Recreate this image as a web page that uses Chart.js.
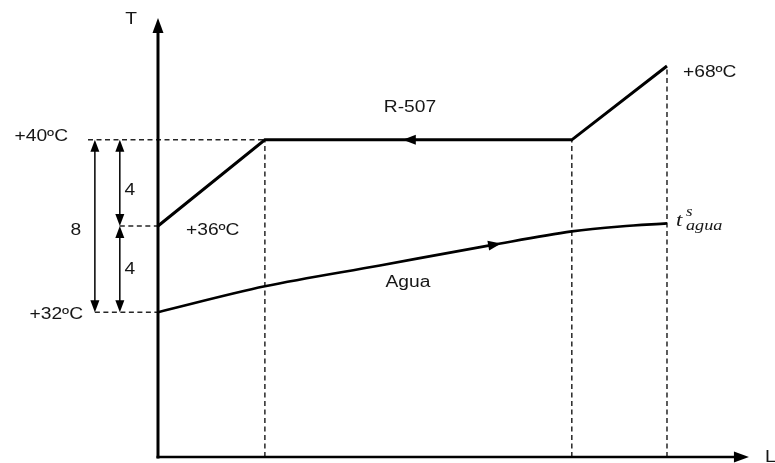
<!DOCTYPE html>
<html>
<head>
<meta charset="utf-8">
<script src="https://cdn.jsdelivr.net/npm/chart.js@4/dist/chart.umd.min.js"></script>
<style>
  html, body { margin: 0; padding: 0; background: #fff; overflow: hidden; }
  #wrap { width: 775px; height: 463px; position: relative; }
</style>
</head>
<body>
<div id="wrap"><canvas id="c"></canvas></div>
<script>
// Refrigerant R-507 profile along the condenser length L (temperatures in ºC)
const L_R507 = [0, 21, 81.3, 100];
const T_R507 = [36, 40, 40, 68];

// Cooling water profile along the same length
const L_AGUA = [0, 21, 43.6, 65.2, 81.3, 90.8, 100];
const T_AGUA = [32, 33.2, 34.17, 35.1, 35.75, 35.98, 36.12];

// Reference temperature levels and the differences between them
const T_LEVELS = [32, 36, 40];
const LEVEL_LABELS = ['+32ºC', '+36ºC', '+40ºC'];
const T_DESCARGA = 68;
const DESCARGA_LABEL = '+68ºC';
const DIFF_LABELS = ['8', '4', '4'];

// Axis extent in data units
const T_AXIS = 25.28, T_AXIS_TOP = 86.2, L_AXIS_END = 116.1;
// Columns for the dimension arrows (left of the T axis)
const L_DIM_TOTAL = -12.4, L_DIM_PART = -7.5, L_GUIDE_40 = -13.75;

// Temperature scale with a compressed range above the condensing level
class BrokenScale extends Chart.LinearScale {
  _dec(v) {
    const b = this.options.breakValue, f = this.options.breakFraction;
    return v <= b ? (v - this.min) / (b - this.min) * f
                  : f + (v - b) / (this.max - b) * (1 - f);
  }
  getPixelForValue(v) { return this.getPixelForDecimal(this._dec(v)); }
  getValueForPixel(p) {
    const d = this.getDecimalForPixel(p);
    const b = this.options.breakValue, f = this.options.breakFraction;
    return d <= f ? this.min + d / f * (b - this.min)
                  : b + (d - f) / (1 - f) * (this.max - b);
  }
}
BrokenScale.id = 'broken';
BrokenScale.defaults = Chart.LinearScale.defaults;
Chart.register(BrokenScale);

const zip = (xs, ys) => xs.map((x, i) => ({ x, y: ys[i] }));
const seg = (x1, y1, x2, y2) => [{ x: x1, y: y1 }, { x: x2, y: y2 }];

const dashed = data => ({
  data, borderColor: '#262626', borderWidth: 1.5, borderDash: [5, 3.5],
  pointRadius: 0, tension: 0, fill: false
});

const datasets = [
  { label: 'R-507', data: zip(L_R507, T_R507), borderColor: '#000', borderWidth: 3,
    pointRadius: 0, tension: 0, fill: false, borderJoinStyle: 'miter' },
  { label: 'Agua', data: zip(L_AGUA, T_AGUA), borderColor: '#000', borderWidth: 2.6,
    pointRadius: 0, cubicInterpolationMode: 'monotone', fill: false },
  // vertical guides from the L axis up to the refrigerant break points
  dashed(seg(L_R507[1], T_AXIS, L_R507[1], T_R507[1])),
  dashed(seg(L_R507[2], T_AXIS, L_R507[2], T_R507[2])),
  dashed(seg(L_R507[3], T_AXIS, L_R507[3], T_R507[3])),
  // horizontal guides to the temperature levels
  dashed(seg(L_GUIDE_40, T_LEVELS[2], L_R507[1], T_LEVELS[2])),
  dashed(seg(L_DIM_PART, T_LEVELS[1], 0, T_LEVELS[1])),
  dashed(seg(L_DIM_TOTAL, T_LEVELS[0], 0, T_LEVELS[0]))
];

function arrowHead(ctx, x, y, ang, len, wid) {
  ctx.save();
  ctx.translate(x, y);
  ctx.rotate(ang);
  ctx.beginPath();
  ctx.moveTo(0, 0);
  ctx.lineTo(-len, -wid / 2);
  ctx.lineTo(-len, wid / 2);
  ctx.closePath();
  ctx.fill();
  ctx.restore();
}

function text(ctx, str, x, y, font, align, sx) {
  ctx.save();
  ctx.font = font;
  ctx.textAlign = align;
  ctx.textBaseline = 'alphabetic';
  ctx.translate(x, y);
  ctx.scale(sx, 1);
  ctx.fillText(str, 0, 0);
  ctx.restore();
}

const decor = {
  id: 'decor',
  afterDatasetsDraw(chart) {
    const ctx = chart.ctx;
    const xs = chart.scales.x, ys = chart.scales.y;
    const px = v => xs.getPixelForValue(v), py = v => ys.getPixelForValue(v);
    ctx.save();
    ctx.strokeStyle = '#000';
    ctx.fillStyle = '#000';

    // T and L axes with arrow heads
    const x0 = px(0), y0 = py(T_AXIS);
    ctx.lineWidth = 3;
    ctx.beginPath();
    ctx.moveTo(x0, y0 + 1.5);
    ctx.lineTo(x0, py(T_AXIS_TOP) + 10);
    ctx.stroke();
    ctx.lineWidth = 2.6;
    ctx.beginPath();
    ctx.moveTo(x0 - 1.5, y0);
    ctx.lineTo(px(L_AXIS_END) - 10, y0);
    ctx.stroke();
    arrowHead(ctx, x0, py(T_AXIS_TOP), -Math.PI / 2, 15, 11);
    arrowHead(ctx, px(L_AXIS_END), y0, 0, 15, 11);

    // dimension arrows between the temperature levels
    ctx.lineWidth = 1.5;
    const dim = (L, tLo, tHi) => {
      const x = px(L), a = py(tHi), b = py(tLo);
      ctx.beginPath();
      ctx.moveTo(x, a + 6);
      ctx.lineTo(x, b - 6);
      ctx.stroke();
      arrowHead(ctx, x, a, -Math.PI / 2, 12, 9);
      arrowHead(ctx, x, b, Math.PI / 2, 12, 9);
    };
    dim(L_DIM_TOTAL, T_LEVELS[0], T_LEVELS[2]);
    dim(L_DIM_PART, T_LEVELS[1], T_LEVELS[2]);
    dim(L_DIM_PART, T_LEVELS[0], T_LEVELS[1]);

    // flow direction arrows
    arrowHead(ctx, px(48.1), py(T_R507[1]), Math.PI, 13, 10);
    const wLine = chart.getDatasetMeta(1).dataset;
    const tipX = px(67.4);
    const p1 = wLine.interpolate({ x: tipX }, 'x');
    const p0 = wLine.interpolate({ x: tipX - 10 }, 'x');
    if (p0 && p1) arrowHead(ctx, p1.x, p1.y, Math.atan2(p1.y - p0.y, p1.x - p0.x), 13, 10);

    // labels
    ctx.fillStyle = '#161616';
    const F = '16px "Liberation Sans", Arial, sans-serif';
    const SX = 1.2;
    text(ctx, 'T', x0 - 27, py(T_AXIS_TOP) + 6, F, 'center', SX);
    text(ctx, 'L', px(L_AXIS_END) + 16, y0 + 5, F, 'left', SX);
    text(ctx, LEVEL_LABELS[2], x0 - 90, py(T_LEVELS[2]) + 1, F, 'right', SX);
    text(ctx, LEVEL_LABELS[0], x0 - 75, py(T_LEVELS[0]) + 7, F, 'right', SX);
    text(ctx, LEVEL_LABELS[1], x0 + 28, py(T_LEVELS[1]) + 9, F, 'left', SX);
    text(ctx, DESCARGA_LABEL, px(L_R507[3]) + 16, py(T_DESCARGA) + 11, F, 'left', SX);
    text(ctx, DIFF_LABELS[0], px(L_DIM_TOTAL) - 19, py(T_LEVELS[1]) + 9, F, 'center', SX);
    text(ctx, DIFF_LABELS[1], px(L_DIM_PART) + 10, (py(T_LEVELS[2]) + py(T_LEVELS[1])) / 2 + 12, F, 'center', SX);
    text(ctx, DIFF_LABELS[2], px(L_DIM_PART) + 10, (py(T_LEVELS[1]) + py(T_LEVELS[0])) / 2 + 5, F, 'center', SX);
    text(ctx, 'R-507', px(49.5), py(T_R507[1]) - 28, F, 'center', SX);
    text(ctx, 'Agua', px(49.1), py(33.15), F, 'center', SX);

    // outlet water temperature symbol
    const tx = px(L_AGUA[L_AGUA.length - 1]) + 9, ty = py(T_AGUA[T_AGUA.length - 1]) + 3;
    text(ctx, 't', tx, ty, 'italic 19px "Liberation Serif", serif', 'left', 1.2);
    text(ctx, 's', tx + 10, ty - 10, 'italic 14px "Liberation Serif", serif', 'left', 1.2);
    text(ctx, 'agua', tx + 10, ty + 4, 'italic 14px "Liberation Serif", serif', 'left', 1.3);
    ctx.restore();
  }
};

new Chart(document.getElementById('c'), {
  type: 'line',
  data: { datasets },
  options: {
    responsive: true,
    maintainAspectRatio: false,
    animation: false,
    layout: { padding: 0 },
    plugins: { legend: { display: false }, tooltip: { enabled: false } },
    events: [],
    scales: {
      x: { type: 'linear', min: -31.04, max: 121.22, display: false },
      y: { type: 'broken', min: 25, max: 93, breakValue: 40, breakFraction: 0.698, display: false }
    }
  },
  plugins: [decor]
});
</script>
</body>
</html>
